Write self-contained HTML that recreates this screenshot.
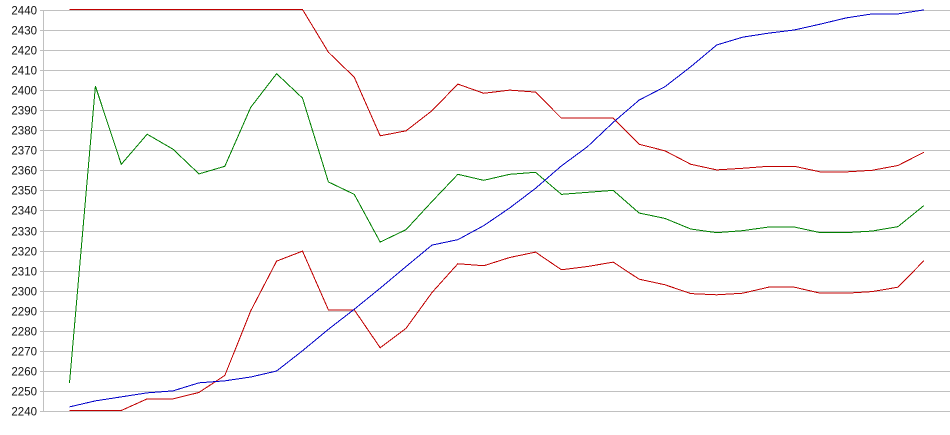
<!DOCTYPE html>
<html>
<head>
<meta charset="utf-8">
<style>
  html, body { margin: 0; padding: 0; background: #ffffff; }
  body { width: 950px; height: 435px; overflow: hidden; }
  svg { display: block; }
  text { font-family: "Liberation Sans", Arial, sans-serif; font-size: 11.5px; fill: #111111; }
</style>
</head>
<body>
<svg width="950" height="435" viewBox="0 0 950 435" xmlns="http://www.w3.org/2000/svg">
  <rect x="0" y="0" width="950" height="435" fill="#ffffff"/>
  <!-- gridlines -->
  <g fill="#c0c0c0" shape-rendering="crispEdges">
    <rect x="40" y="10" width="910" height="1"/>
    <rect x="40" y="30" width="910" height="1"/>
    <rect x="40" y="50" width="910" height="1"/>
    <rect x="40" y="70" width="910" height="1"/>
    <rect x="40" y="90" width="910" height="1"/>
    <rect x="40" y="110" width="910" height="1"/>
    <rect x="40" y="130" width="910" height="1"/>
    <rect x="40" y="150" width="910" height="1"/>
    <rect x="40" y="170" width="910" height="1"/>
    <rect x="40" y="190" width="910" height="1"/>
    <rect x="40" y="210" width="910" height="1"/>
    <rect x="40" y="231" width="910" height="1"/>
    <rect x="40" y="251" width="910" height="1"/>
    <rect x="40" y="271" width="910" height="1"/>
    <rect x="40" y="291" width="910" height="1"/>
    <rect x="40" y="311" width="910" height="1"/>
    <rect x="40" y="331" width="910" height="1"/>
    <rect x="40" y="351" width="910" height="1"/>
    <rect x="40" y="371" width="910" height="1"/>
    <rect x="40" y="391" width="910" height="1"/>
    <rect x="40" y="411" width="910" height="1"/>
    <rect x="43" y="10" width="1" height="402"/>
  </g>
  <!-- labels -->
  <g text-anchor="end">
    <text x="37" y="14.5">2440</text>
    <text x="37" y="34.5">2430</text>
    <text x="37" y="54.5">2420</text>
    <text x="37" y="74.5">2410</text>
    <text x="37" y="94.5">2400</text>
    <text x="37" y="114.5">2390</text>
    <text x="37" y="134.5">2380</text>
    <text x="37" y="154.5">2370</text>
    <text x="37" y="174.5">2360</text>
    <text x="37" y="194.5">2350</text>
    <text x="37" y="214.5">2340</text>
    <text x="37" y="235.5">2330</text>
    <text x="37" y="255.5">2320</text>
    <text x="37" y="275.5">2310</text>
    <text x="37" y="295.5">2300</text>
    <text x="37" y="315.5">2290</text>
    <text x="37" y="335.5">2280</text>
    <text x="37" y="355.5">2270</text>
    <text x="37" y="375.5">2260</text>
    <text x="37" y="395.5">2250</text>
    <text x="37" y="415.5">2240</text>
  </g>
  <!-- series -->
  <g transform="translate(69.5,411.5) scale(25.89,-2.005)" fill="none" stroke-width="1" shape-rendering="crispEdges">
    <polyline vector-effect="non-scaling-stroke" stroke="#008000"
      points="0,14.2 1,162.3 2,123.3 3,138.3 4,130.8 5,118.5 6,122.3 7,151.7 8,168.5 9,156.3 10,114.5 11,108.3 12,84.5 13,90.7 14,104.7 15,118.3 16,115.3 17,118.3 18,119.3 19,108.3 20,109.3 21,110.3 22,99 23,96.3 24,91 25,89.2 26,90.2 27,92 28,92 29,89.2 30,89.2 31,90 32,92.2 33,102.7"/>
    <polyline vector-effect="non-scaling-stroke" stroke="#c00000"
      points="0,0.5 1,0.5 2,0.5 3,6.3 4,6.3 5,9.5 6,18 7,50.2 8,75 9,80 10,50.7 11,50.7 12,31.8 13,41.5 14,59.3 15,73.7 16,72.7 17,76.8 18,79.5 19,70.7 20,72.3 21,74.5 22,66 23,63.2 24,58.8 25,58.2 26,59 27,62 28,62 29,59 30,59 31,59.8 32,62 33,75.2"/>
    <polyline vector-effect="non-scaling-stroke" stroke="#c00000"
      points="0,200.5 1,200.5 2,200.5 3,200.5 4,200.5 5,200.5 6,200.5 7,200.5 8,200.5 9,200.5 10,179.2 11,166.7 12,137.5 13,140 14,150 15,163.3 16,158.7 17,160.3 18,159.3 19,146.3 20,146.3 21,146.3 22,133.3 23,130 24,123.3 25,120.5 26,121.3 27,122.3 28,122.3 29,119.5 30,119.5 31,120.3 32,122.7 33,129.3"/>
    <polyline vector-effect="non-scaling-stroke" stroke="#0000c8"
      points="0,2.3 1,5.3 2,7.3 3,9.3 4,10.3 5,14.3 6,15.3 7,17.2 8,20.2 9,30.3 10,41 11,51 12,61.5 13,72.3 14,83 15,85.7 16,92.7 17,101.5 18,111.3 19,122.5 20,132 21,144.2 22,155.3 23,162 24,172 25,182.8 26,186.7 27,188.7 28,190.3 29,193.2 30,196.3 31,198.3 32,198.3 33,200.3"/>
  </g>
</svg>
</body>
</html>
